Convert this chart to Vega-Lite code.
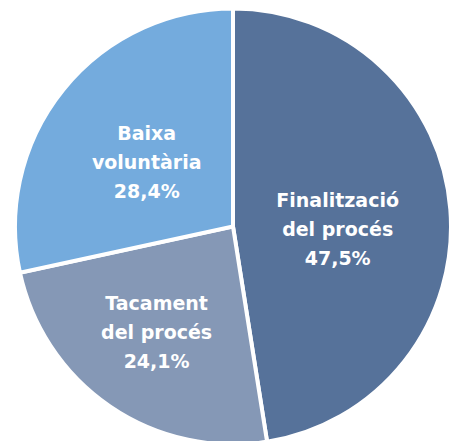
{
  "$schema": "https://vega.github.io/schema/vega-lite/v6.json",
  "width": 432,
  "height": 429,
  "padding": {"left": 17, "top": 12, "right": 3, "bottom": 0},
  "autosize": {"type": "none"},
  "background": "white",
  "view": {"stroke": null},
  "data": {
    "values": [
      {"cat": "Finalització del procés", "label": "Finalització\ndel procés\n47,5%", "value": 47.5, "order": 1},
      {"cat": "Tacament del procés", "label": "Tacament\ndel procés\n24,1%", "value": 24.1, "order": 2},
      {"cat": "Baixa voluntària", "label": "Baixa\nvoluntària\n28,4%", "value": 28.4, "order": 3}
    ]
  },
  "encoding": {
    "theta": {"field": "value", "type": "quantitative", "stack": true},
    "order": {"field": "order", "type": "quantitative"}
  },
  "layer": [
    {
      "mark": {"type": "arc", "radius": 218, "stroke": "white", "strokeWidth": 4},
      "encoding": {
        "color": {
          "field": "cat",
          "type": "nominal",
          "scale": {
            "domain": ["Finalització del procés", "Tacament del procés", "Baixa voluntària"],
            "range": ["#56729a", "#8598b6", "#74abdd"]
          },
          "legend": null
        }
      }
    },
    {
      "mark": {
        "type": "text", "radius": 105, "dx": 0, "dy": -17,
        "lineBreak": "\n", "lineHeight": 29,
        "font": "DejaVu Sans", "fontWeight": "bold", "fontSize": 19,
        "fill": "white", "align": "center", "baseline": "middle"
      },
      "encoding": {
        "text": {"condition": {"test": "datum.order == 1", "field": "label"}, "value": ""}
      }
    },
    {
      "mark": {
        "type": "text", "radius": 130, "dx": -3, "dy": -30,
        "lineBreak": "\n", "lineHeight": 29,
        "font": "DejaVu Sans", "fontWeight": "bold", "fontSize": 19,
        "fill": "white", "align": "center", "baseline": "middle"
      },
      "encoding": {
        "text": {"condition": {"test": "datum.order == 2", "field": "label"}, "value": ""}
      }
    },
    {
      "mark": {
        "type": "text", "radius": 107, "dx": -3, "dy": -25,
        "lineBreak": "\n", "lineHeight": 29,
        "font": "DejaVu Sans", "fontWeight": "bold", "fontSize": 19,
        "fill": "white", "align": "center", "baseline": "middle"
      },
      "encoding": {
        "text": {"condition": {"test": "datum.order == 3", "field": "label"}, "value": ""}
      }
    }
  ]
}
